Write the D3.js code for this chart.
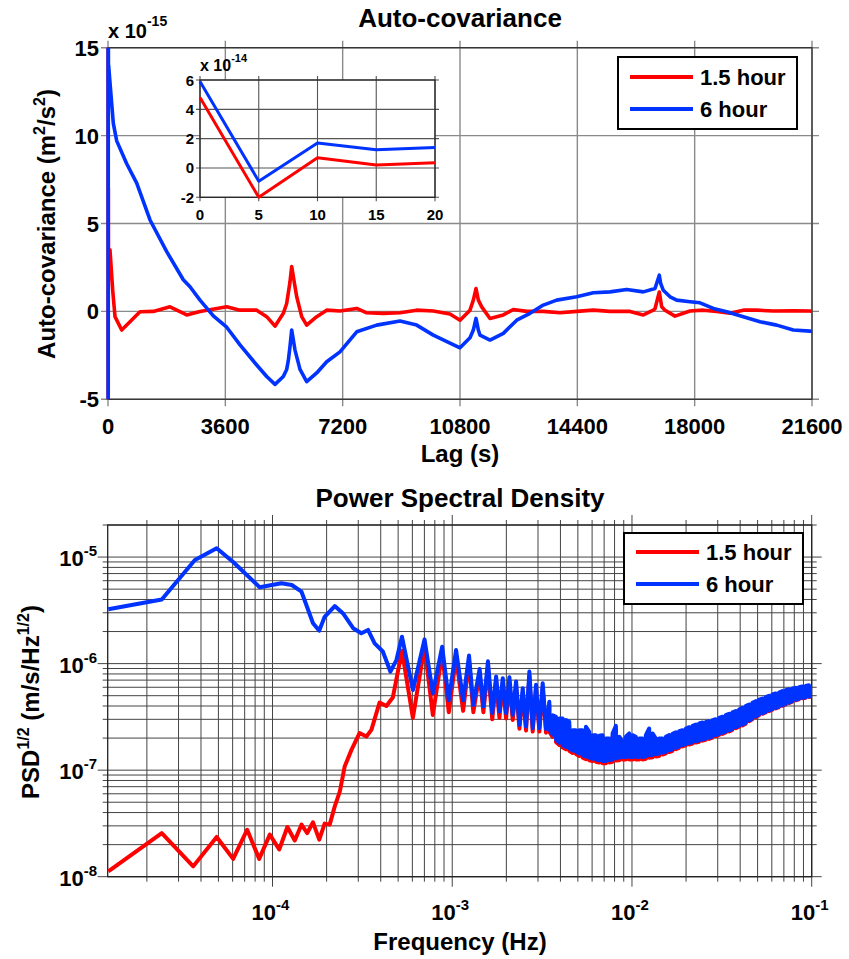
<!DOCTYPE html>
<html>
<head>
<meta charset="utf-8">
<script src="https://cdn.jsdelivr.net/npm/d3@7"></script>
<style>
  body { margin: 0; background: #fff; }
  svg text { font-family: "Liberation Sans", Arial, sans-serif; font-weight: bold; fill: #000; }
</style>
</head>
<body>
<script>
// Auto-covariance and PSD of 1.5 hour / 6 hour records

// --- auto-covariance, lag in s, value in 1e-15 m^2/s^2 ---
const lag15h = [0, 5, 10, 15, 20, 61, 144, 215, 420, 675,
    982, 1390, 1902, 2415, 2823, 3642, 4050, 4562, 4869, 5124,
    5379, 5482, 5584, 5636, 5738, 5790, 5943, 6096, 6403, 6710,
    7118, 7631, 7937, 8447, 8959, 9471, 9981, 10493, 10800, 11107,
    11209, 11291, 11363, 11466, 11721, 12129, 12435, 12846, 13356, 13868,
    14381, 14890, 15402, 16016, 16424, 16731, 16783, 16915, 16988, 17090,
    17396, 17857, 18264, 18676, 19084, 19492, 19903, 20413, 21026, 21539, 21600];
const acov15h = [48, -20, 7, 2, 3.5, 3.5, 1.2, -0.3, -1.06, -0.59,
    -0.02, 0, 0.26, -0.2, 0, 0.26, 0.07, 0.07, -0.3, -0.84,
    -0.11, 0.45, 1.68, 2.55, 1.4, 0.83, -0.3, -0.78, -0.3, 0.07,
    0.02, 0.17, -0.08, -0.11, -0.08, 0.07, 0.02, -0.15, -0.5, 0.07,
    0.64, 1.3, 0.64, 0.26, -0.4, -0.2, 0.11, 0, 0, -0.08,
    0, 0.07, 0, 0, -0.2, 0.07, 0.15, 1.1, 0.26, 0.07,
    -0.27, 0.02, 0.07, 0, -0.11, 0.07, 0.07, 0.02, 0.04, 0.02, 0];

const lag6h = [0, 5, 10, 15, 20, 40, 163, 267, 574, 881,
    1289, 1801, 2310, 2516, 2823, 3231, 3642, 4050, 4562, 4869,
    5124, 5379, 5482, 5532, 5584, 5636, 5738, 5891, 6096, 6403,
    6710, 7118, 7631, 8244, 8959, 9471, 9981, 10493, 10800, 11107,
    11209, 11291, 11363, 11414, 11721, 12129, 12540, 12948, 13356, 13767,
    14381, 14890, 15402, 15915, 16424, 16783, 16915, 16957, 17038, 17244,
    17449, 17857, 18164, 18572, 18983, 19492, 20005, 20517, 21026, 21539, 21600];
const acov6h = [59, -9, 17, 12.5, 14, 13.5, 10.7, 9.7, 8.4, 7.3,
    5.2, 3.4, 1.8, 1.4, 0.64, -0.25, -0.9, -1.9, -3.05, -3.7,
    -4.15, -3.7, -3.3, -2.8, -2.0, -1.06, -2.2, -3.3, -4.0, -3.5,
    -2.86, -2.3, -1.16, -0.78, -0.55, -0.78, -1.35, -1.8, -2.07, -1.5,
    -1.06, -0.4, -1.06, -1.35, -1.63, -1.25, -0.5, -0.11, 0.36, 0.64,
    0.83, 1.06, 1.11, 1.25, 1.11, 1.3, 2.06, 1.59, 1.2, 0.83,
    0.64, 0.55, 0.49, 0.17, -0.02, -0.3, -0.59, -0.78, -1.06, -1.12, -1.15];

// inset: first 20 s, value in 1e-14
const insetLag = [0, 5, 10, 15, 20];
const insetAcov15h = [4.8, -2.0, 0.7, 0.2, 0.35];
const insetAcov6h = [5.9, -0.9, 1.7, 1.25, 1.4];

const lagTicks = [0, 3600, 7200, 10800, 14400, 18000, 21600];
const acovTicks = [-5, 0, 5, 10, 15];
const insetLagTicks = [0, 5, 10, 15, 20];
const insetAcovTicks = [-2, 0, 2, 4, 6];

// --- PSD^(1/2), frequency in Hz, value in m/s/Hz^(1/2) ---
const psdFreq15h = [1.22e-5, 2.42e-5, 3.62e-5, 4.89e-5, 6.04e-5, 7.23e-5, 8.43e-5, 9.66e-5, 1.09e-4, 1.21e-4,
    1.33e-4, 1.45e-4, 1.56e-4, 1.68e-4, 1.82e-4, 1.95e-4, 2.08e-4, 2.22e-4, 2.37e-4, 2.52e-4,
    2.75e-4, 3.05e-4, 3.33e-4, 3.55e-4, 3.94e-4, 4.30e-4, 4.67e-4, 5.25e-4, 6.04e-4, 7.01e-4,
    7.80e-4, 8.79e-4, 9.57e-4, 1.05e-3, 1.15e-3, 1.24e-3, 1.31e-3, 1.42e-3, 1.49e-3, 1.58e-3,
    1.67e-3, 1.754e-3, 1.830e-3, 1.910e-3, 1.993e-3, 2.080e-3, 2.170e-3, 2.265e-3, 2.364e-3, 2.467e-3,
    2.574e-3, 2.686e-3, 2.803e-3, 2.925e-3, 3.053e-3, 3.186e-3, 3.325e-3];
const psd15h = [1.12e-8, 2.57e-8, 1.25e-8, 2.36e-8, 1.47e-8, 2.76e-8, 1.47e-8, 2.48e-8, 1.8e-8, 2.93e-8,
    2.19e-8, 3.08e-8, 2.57e-8, 3.24e-8, 2.23e-8, 3.15e-8, 3.08e-8, 4.57e-8, 6.31e-8, 1.08e-7,
    1.55e-7, 2.23e-7, 2.07e-7, 2.39e-7, 4.3e-7, 4.0e-7, 4.8e-7, 1.32e-6, 3.1e-7, 1.45e-6,
    3.3e-7, 1.25e-6, 3.5e-7, 1.15e-6, 3.6e-7, 1.05e-6, 3.5e-7, 8.0e-7, 3.5e-7, 9.2e-7,
    3.0e-7, 6.8e-7, 3.1e-7, 6.6e-7, 3.05e-7, 6.7e-7, 2.95e-7, 6.1e-7, 2.45e-7, 5.3e-7,
    2.35e-7, 7.6e-7, 2.3e-7, 5.7e-7, 2.3e-7, 5.9e-7, 2.25e-7];

const psdFreq6h = [1.22e-5, 2.42e-5, 3.70e-5, 4.89e-5, 6.04e-5, 8.49e-5, 1.12e-4, 1.28e-4, 1.45e-4, 1.68e-4,
    1.82e-4, 1.95e-4, 2.22e-4, 2.47e-4, 2.81e-4, 3.12e-4, 3.40e-4, 3.70e-4, 4.11e-4, 4.53e-4,
    4.89e-4, 5.25e-4, 6.04e-4, 7.01e-4, 7.80e-4, 8.79e-4, 9.57e-4, 1.05e-3, 1.15e-3, 1.24e-3,
    1.31e-3, 1.42e-3, 1.49e-3, 1.58e-3, 1.67e-3, 1.754e-3, 1.830e-3, 1.910e-3, 1.993e-3, 2.080e-3,
    2.170e-3, 2.265e-3, 2.364e-3, 2.467e-3, 2.574e-3, 2.686e-3, 2.803e-3, 2.925e-3, 3.053e-3, 3.186e-3,
    3.325e-3];
const psd6h = [3.24e-6, 4.0e-6, 9.4e-6, 1.21e-5, 9.0e-6, 5.2e-6, 5.67e-6, 5.47e-6, 4.73e-6, 2.39e-6,
    2.04e-6, 2.75e-6, 3.47e-6, 2.96e-6, 2.15e-6, 1.93e-6, 2.07e-6, 1.55e-6, 1.3e-6, 8.4e-7,
    1.08e-6, 1.79e-6, 5.66e-7, 1.69e-6, 5.27e-7, 1.44e-6, 4.54e-7, 1.34e-6, 4.54e-7, 1.19e-6,
    4.1e-7, 8.9e-7, 3.95e-7, 1.05e-6, 3.43e-7, 7.56e-7, 3.55e-7, 7.29e-7, 3.43e-7, 7.45e-7,
    3.31e-7, 6.79e-7, 2.66e-7, 5.87e-7, 2.57e-7, 8.42e-7, 2.48e-7, 6.32e-7, 2.48e-7, 6.54e-7,
    2.43e-7];

// above ~3.4e-3 Hz the ripples merge into a band: upper / lower edge read per frequency
const bandFreq = [3.469e-3, 3.620e-3, 3.778e-3, 3.943e-3,
    4.114e-3, 4.293e-3, 4.480e-3, 4.676e-3, 4.879e-3, 5.092e-3, 5.313e-3, 5.545e-3, 5.786e-3, 6.038e-3,
    6.301e-3, 6.576e-3, 6.862e-3, 7.161e-3, 7.473e-3, 7.799e-3, 8.138e-3, 8.493e-3, 8.863e-3, 9.249e-3,
    9.652e-3, 1.007e-2, 1.051e-2, 1.097e-2, 1.145e-2, 1.195e-2, 1.247e-2, 1.301e-2, 1.358e-2, 1.417e-2,
    1.479e-2, 1.543e-2, 1.610e-2, 1.680e-2, 1.754e-2, 1.830e-2, 1.910e-2, 1.993e-2, 2.080e-2, 2.170e-2,
    2.265e-2, 2.364e-2, 2.467e-2, 2.574e-2, 2.686e-2, 2.803e-2, 2.925e-2, 3.053e-2, 3.186e-2, 3.325e-2,
    3.469e-2, 3.620e-2, 3.778e-2, 3.943e-2, 4.114e-2, 4.293e-2, 4.480e-2, 4.676e-2, 4.879e-2, 5.092e-2,
    5.313e-2, 5.545e-2, 5.786e-2, 6.038e-2, 6.301e-2, 6.576e-2, 6.862e-2, 7.161e-2, 7.473e-2, 7.799e-2,
    8.138e-2, 8.493e-2, 8.863e-2, 9.249e-2, 9.652e-2, 1.0e-1];
const band6hHi = [4.38e-7, 3.28e-7, 3.17e-7, 3.05e-7,
    3.05e-7, 2.95e-7, 2.84e-7, 2.37e-7, 2.37e-7, 2.37e-7, 2.37e-7, 2.55e-7, 2.29e-7, 2.13e-7,
    2.13e-7, 2.10e-7, 2.13e-7, 1.98e-7, 1.98e-7, 2.21e-7, 2.61e-7, 2.06e-7, 1.85e-7, 2.06e-7,
    2.21e-7, 2.13e-7, 2.06e-7, 1.98e-7, 1.98e-7, 2.13e-7, 2.46e-7, 2.21e-7, 1.98e-7, 1.98e-7,
    1.98e-7, 2.06e-7, 2.13e-7, 2.19e-7, 2.26e-7, 2.32e-7, 2.37e-7, 2.46e-7, 2.53e-7, 2.61e-7,
    2.68e-7, 2.74e-7, 2.80e-7, 2.84e-7, 2.88e-7, 2.95e-7, 3.01e-7, 3.10e-7, 3.17e-7, 3.28e-7,
    3.38e-7, 3.48e-7, 3.58e-7, 3.71e-7, 3.84e-7, 3.99e-7, 4.13e-7, 4.28e-7, 4.44e-7, 4.60e-7,
    4.70e-7, 4.84e-7, 4.98e-7, 5.13e-7, 5.24e-7, 5.35e-7, 5.51e-7, 5.63e-7, 5.75e-7, 5.84e-7,
    5.92e-7, 6.01e-7, 6.09e-7, 6.18e-7, 6.27e-7, 6.27e-7];
const band6hLo = [2.41e-7, 2.16e-7, 1.94e-7, 1.81e-7,
    1.72e-7, 1.65e-7, 1.60e-7, 1.53e-7, 1.49e-7, 1.43e-7, 1.38e-7, 1.34e-7, 1.31e-7, 1.28e-7,
    1.26e-7, 1.24e-7, 1.22e-7, 1.22e-7, 1.24e-7, 1.26e-7, 1.29e-7, 1.31e-7, 1.33e-7, 1.33e-7,
    1.33e-7, 1.33e-7, 1.33e-7, 1.33e-7, 1.33e-7, 1.35e-7, 1.38e-7, 1.39e-7, 1.41e-7, 1.43e-7,
    1.46e-7, 1.49e-7, 1.53e-7, 1.57e-7, 1.62e-7, 1.67e-7, 1.72e-7, 1.76e-7, 1.79e-7, 1.83e-7,
    1.87e-7, 1.90e-7, 1.94e-7, 1.98e-7, 2.01e-7, 2.07e-7, 2.13e-7, 2.19e-7, 2.24e-7, 2.31e-7,
    2.36e-7, 2.44e-7, 2.53e-7, 2.61e-7, 2.68e-7, 2.78e-7, 2.93e-7, 3.05e-7, 3.19e-7, 3.33e-7,
    3.43e-7, 3.53e-7, 3.63e-7, 3.74e-7, 3.84e-7, 3.96e-7, 4.07e-7, 4.19e-7, 4.31e-7, 4.44e-7,
    4.57e-7, 4.67e-7, 4.77e-7, 4.84e-7, 4.91e-7, 4.95e-7];
const band15hHi = [4.1e-7, 3.05e-7, 2.95e-7, 2.84e-7,
    2.84e-7, 2.74e-7, 2.64e-7, 2.2e-7, 2.2e-7, 2.2e-7, 2.2e-7, 2.37e-7, 2.13e-7, 1.98e-7,
    1.98e-7, 1.95e-7, 1.98e-7, 1.84e-7, 1.84e-7, 2.06e-7, 2.43e-7, 1.92e-7, 1.72e-7, 1.92e-7,
    2.06e-7, 1.98e-7, 1.92e-7, 1.84e-7, 1.84e-7, 1.98e-7, 2.29e-7, 2.06e-7, 1.84e-7, 1.84e-7,
    1.84e-7, 2.0e-7, 2.07e-7, 2.12e-7, 2.19e-7, 2.25e-7, 2.3e-7, 2.39e-7, 2.45e-7, 2.53e-7,
    2.6e-7, 2.66e-7, 2.72e-7, 2.75e-7, 2.79e-7, 2.86e-7, 2.92e-7, 3.01e-7, 3.07e-7, 3.18e-7,
    3.28e-7, 3.38e-7, 3.47e-7, 3.6e-7, 3.72e-7, 3.87e-7, 4.0e-7, 4.15e-7, 4.31e-7, 4.46e-7,
    4.56e-7, 4.69e-7, 4.83e-7, 4.98e-7, 5.08e-7, 5.19e-7, 5.34e-7, 5.46e-7, 5.58e-7, 5.66e-7,
    5.74e-7, 5.83e-7, 5.91e-7, 5.99e-7, 6.08e-7, 6.08e-7];
const band15hLo = [2.29e-7, 2.05e-7, 1.84e-7, 1.72e-7,
    1.63e-7, 1.57e-7, 1.52e-7, 1.45e-7, 1.42e-7, 1.36e-7, 1.31e-7, 1.27e-7, 1.24e-7, 1.22e-7,
    1.2e-7, 1.18e-7, 1.16e-7, 1.16e-7, 1.18e-7, 1.2e-7, 1.23e-7, 1.24e-7, 1.26e-7, 1.26e-7,
    1.26e-7, 1.26e-7, 1.26e-7, 1.26e-7, 1.26e-7, 1.28e-7, 1.31e-7, 1.32e-7, 1.34e-7, 1.36e-7,
    1.4e-7, 1.44e-7, 1.48e-7, 1.52e-7, 1.57e-7, 1.62e-7, 1.67e-7, 1.71e-7, 1.74e-7, 1.78e-7,
    1.82e-7, 1.85e-7, 1.89e-7, 1.93e-7, 1.96e-7, 2.02e-7, 2.08e-7, 2.14e-7, 2.19e-7, 2.26e-7,
    2.31e-7, 2.39e-7, 2.48e-7, 2.56e-7, 2.63e-7, 2.73e-7, 2.88e-7, 3.0e-7, 3.14e-7, 3.28e-7,
    3.38e-7, 3.48e-7, 3.58e-7, 3.69e-7, 3.79e-7, 3.91e-7, 4.02e-7, 4.14e-7, 4.26e-7, 4.39e-7,
    4.52e-7, 4.62e-7, 4.72e-7, 4.79e-7, 4.86e-7, 4.9e-7];

const freqDecades = [1e-4, 1e-3, 1e-2, 1e-1];
const psdDecades = [1e-8, 1e-7, 1e-6, 1e-5];

const seriesNames = ['1.5 hour', '6 hour'];
const RED = '#ff0000';
const BLUE = '#0033ff';

const svg = d3.select('body').append('svg')
    .attr('width', 849)
    .attr('height', 959);

// text with optional superscript parts: [[text, isSup], ...]
function richText(sel, parts, size, supSize, supShift) {
    let up = false;
    parts.forEach(([t, sup]) => {
        const ts = sel.append('tspan').text(t).attr('font-size', sup ? supSize : size);
        if (sup && !up) { ts.attr('dy', -supShift); up = true; }
        else if (!sup && up) { ts.attr('dy', supShift); up = false; }
    });
    return sel;
}

function legend(g, x, y, w, h, rowY) {
    g.append('rect')
        .attr('x', x).attr('y', y).attr('width', w).attr('height', h)
        .attr('fill', '#fff').attr('stroke', '#000').attr('stroke-width', 2);
    [RED, BLUE].forEach((c, i) => {
        g.append('line')
            .attr('x1', x + 12).attr('x2', x + 75)
            .attr('y1', y + rowY[i]).attr('y2', y + rowY[i])
            .attr('stroke', c).attr('stroke-width', 4);
        g.append('text')
            .attr('x', x + 82).attr('y', y + rowY[i] + 8)
            .attr('font-size', 22)
            .text(seriesNames[i]);
    });
}

// ================= Auto-covariance =================
const xLag = d3.scaleLinear().domain([0, 21600]).range([108, 812]);
const yAcov = d3.scaleLinear().domain([-5, 15]).range([399.3, 47.7]);
const gA = svg.append('g');

(function frame() {
    const [L, R] = xLag.range(), [B, T] = yAcov.range();
    const tk = 7;
    gA.selectAll(null).data(lagTicks).join('line')
        .attr('x1', d => xLag(d)).attr('x2', d => xLag(d))
        .attr('y1', T - tk).attr('y2', B + tk)
        .attr('stroke', '#8a8a8a').attr('stroke-width', 1.4);
    gA.selectAll(null).data(acovTicks).join('line')
        .attr('y1', d => yAcov(d)).attr('y2', d => yAcov(d))
        .attr('x1', L - tk).attr('x2', R + tk)
        .attr('stroke', '#8a8a8a').attr('stroke-width', 1.4);
    gA.append('rect')
        .attr('x', L).attr('y', T).attr('width', R - L).attr('height', B - T)
        .attr('fill', 'none').attr('stroke', '#333').attr('stroke-width', 1.3);

    gA.selectAll(null).data(lagTicks).join('text')
        .attr('x', d => xLag(d)).attr('y', 434)
        .attr('text-anchor', 'middle').attr('font-size', 22)
        .text(d => d);
    gA.selectAll(null).data(acovTicks).join('text')
        .attr('x', 99).attr('y', d => yAcov(d) + 8)
        .attr('text-anchor', 'end').attr('font-size', 22)
        .text(d => d);
})();

gA.append('text').attr('x', 460).attr('y', 27)
    .attr('text-anchor', 'middle').attr('font-size', 26).text('Auto-covariance');
gA.append('text').attr('x', 460).attr('y', 462)
    .attr('text-anchor', 'middle').attr('font-size', 24).text('Lag (s)');
richText(gA.append('text').attr('x', 108).attr('y', 38),
    [['x 10', false], ['-15', true]], 20, 14, 12);
richText(gA.append('text')
    .attr('transform', 'translate(55,224) rotate(-90)')
    .attr('text-anchor', 'middle'),
    [['Auto-covariance (m', false], ['2', true], ['/s', false], ['2', true], [')', false]], 24, 16, 10);

gA.append('clipPath').attr('id', 'clip-acov')
    .append('rect').attr('x', 105).attr('y', 47.7).attr('width', 707).attr('height', 351.6);

const lineA = d3.line().x(d => xLag(d[0])).y(d => yAcov(d[1]));
[[lag15h, acov15h, RED], [lag6h, acov6h, BLUE]].forEach(([lx, ly, c]) => {
    gA.append('path')
        .datum(d3.zip(lx, ly))
        .attr('clip-path', 'url(#clip-acov)')
        .attr('fill', 'none').attr('stroke', c).attr('stroke-width', 3.6)
        .attr('stroke-linejoin', 'round')
        .attr('d', lineA);
});

legend(gA, 618, 57, 179, 72, [20, 52]);

// inset
const xIn = d3.scaleLinear().domain([0, 20]).range([200, 435]);
const yIn = d3.scaleLinear().domain([-2, 6]).range([197.3, 80]);
const gI = svg.append('g');
(function inset() {
    const [L, R] = xIn.range(), [B, T] = yIn.range();
    const tk = 4;
    gI.append('rect').attr('x', L).attr('y', T).attr('width', R - L).attr('height', B - T).attr('fill', '#fff');
    gI.selectAll(null).data(insetLagTicks).join('line')
        .attr('x1', d => xIn(d)).attr('x2', d => xIn(d))
        .attr('y1', T - tk).attr('y2', B + tk)
        .attr('stroke', '#555').attr('stroke-width', 1.1);
    gI.selectAll(null).data(insetAcovTicks).join('line')
        .attr('y1', d => yIn(d)).attr('y2', d => yIn(d))
        .attr('x1', L - tk).attr('x2', R + tk)
        .attr('stroke', '#555').attr('stroke-width', 1.1);
    gI.append('rect')
        .attr('x', L).attr('y', T).attr('width', R - L).attr('height', B - T)
        .attr('fill', 'none').attr('stroke', '#222').attr('stroke-width', 1.2);
    gI.selectAll(null).data(insetLagTicks).join('text')
        .attr('x', d => xIn(d)).attr('y', 220)
        .attr('text-anchor', 'middle').attr('font-size', 15)
        .text(d => d);
    gI.selectAll(null).data(insetAcovTicks).join('text')
        .attr('x', 194).attr('y', d => yIn(d) + 5.5)
        .attr('text-anchor', 'end').attr('font-size', 15)
        .text(d => d);
    richText(gI.append('text').attr('x', 200).attr('y', 71),
        [['x 10', false], ['-14', true]], 16, 11, 9);

    const lineI = d3.line().x(d => xIn(d[0])).y(d => yIn(d[1]));
    [[insetAcov15h, RED], [insetAcov6h, BLUE]].forEach(([v, c]) => {
        gI.append('path')
            .datum(d3.zip(insetLag, v))
            .attr('fill', 'none').attr('stroke', c).attr('stroke-width', 3)
            .attr('stroke-linejoin', 'round')
            .attr('d', lineI);
    });
})();

// ================= Power Spectral Density =================
const xF = d3.scaleLog().domain([Math.pow(10, -4.917), 0.1]).range([107.7, 811.7]);
const yP = d3.scaleLog().domain([1e-8, 2e-5]).range([876.7, 525]);
const gP = svg.append('g');

(function frame() {
    const [L, R] = xF.range(), [B, T] = yP.range();
    const isMajor = v => Math.abs(Math.log10(v) - Math.round(Math.log10(v))) < 1e-6;
    const xt = xF.ticks();
    const yt = yP.ticks();
    gP.selectAll(null).data(xt).join('line')
        .attr('x1', d => xF(d)).attr('x2', d => xF(d))
        .attr('y1', d => T - (isMajor(d) ? 10 : 5))
        .attr('y2', d => B + (isMajor(d) ? 10 : 5))
        .attr('stroke', '#444').attr('stroke-width', 1);
    gP.selectAll(null).data(yt).join('line')
        .attr('y1', d => yP(d)).attr('y2', d => yP(d))
        .attr('x1', d => L - (isMajor(d) ? 10 : 5))
        .attr('x2', d => R + (isMajor(d) ? 10 : 5))
        .attr('stroke', '#444').attr('stroke-width', 1);
    gP.append('rect')
        .attr('x', L).attr('y', T).attr('width', R - L).attr('height', B - T)
        .attr('fill', 'none').attr('stroke', '#222').attr('stroke-width', 1.3);

    freqDecades.forEach(f => {
        richText(gP.append('text')
            .attr('x', xF(f) - 2).attr('y', 920)
            .attr('text-anchor', 'middle'),
            [['10', false], [String(Math.round(Math.log10(f))), true]], 22, 15, 10);
    });
    psdDecades.forEach(p => {
        richText(gP.append('text')
            .attr('x', 97).attr('y', yP(p) + 9)
            .attr('text-anchor', 'end'),
            [['10', false], [String(Math.round(Math.log10(p))), true]], 22, 15, 10);
    });
})();

gP.append('text').attr('x', 460).attr('y', 507)
    .attr('text-anchor', 'middle').attr('font-size', 26).text('Power Spectral Density');
gP.append('text').attr('x', 460).attr('y', 950)
    .attr('text-anchor', 'middle').attr('font-size', 24).text('Frequency (Hz)');
richText(gP.append('text')
    .attr('transform', 'translate(39,702) rotate(-90)')
    .attr('text-anchor', 'middle'),
    [['PSD', false], ['1/2', true], [' (m/s/Hz', false], ['1/2', true], [')', false]], 24, 16, 10);

gP.append('clipPath').attr('id', 'clip-psd')
    .append('rect').attr('x', 105).attr('y', 525).attr('width', 707).attr('height', 351.7);

// resolved part, then the band traced edge to edge at every read frequency
function psdPoints(freq, vals, hi, lo) {
    const pts = d3.zip(freq, vals);
    bandFreq.forEach((f, i) => {
        if (i % 2 === 0) pts.push([f, hi[i]], [f, lo[i]]);
        else pts.push([f, lo[i]], [f, hi[i]]);
    });
    return pts;
}

const lineP = d3.line().x(d => xF(d[0])).y(d => yP(d[1]));
[
    [psdPoints(psdFreq15h, psd15h, band15hHi, band15hLo), RED],
    [psdPoints(psdFreq6h, psd6h, band6hHi, band6hLo), BLUE]
].forEach(([pts, c]) => {
    gP.append('path')
        .datum(pts)
        .attr('clip-path', 'url(#clip-psd)')
        .attr('fill', 'none').attr('stroke', c).attr('stroke-width', 4)
        .attr('stroke-linejoin', 'round')
        .attr('d', lineP);
});

legend(gP, 624, 533, 179, 71, [19, 51]);
</script>
</body>
</html>
